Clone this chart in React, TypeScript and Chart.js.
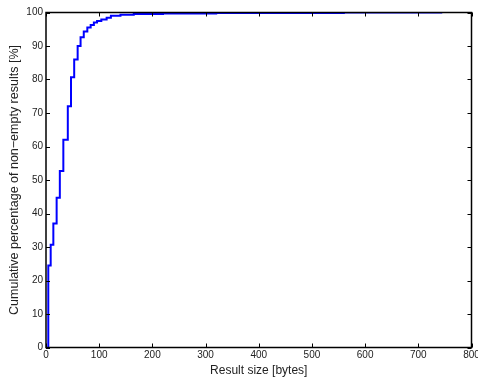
import React, { useEffect, useRef } from "react";
import { Chart, registerables } from "chart.js";

Chart.register(...registerables);

const sizeBytes = [4.3, 4.3, 8.8, 13.8, 20, 26, 32.6, 41, 47, 53, 59.5, 65, 71, 77.7, 84, 90, 96, 104, 114, 122, 140, 165, 220, 320, 560, 745];
const cumPercent = [0, 24.5, 30.7, 37, 44.7, 52.7, 62, 72, 80.7, 86, 90, 92.6, 94.3, 95.5, 96.3, 97, 97.5, 97.9, 98.4, 99, 99.3, 99.55, 99.7, 99.85, 100, 100];
const xTitle = "Result size [bytes]";
const yTitle = "Cumulative percentage of non\u2212empty results [%]";

const FONT = "'Liberation Sans', Arial, Helvetica, sans-serif";

const boxTicks = {
  id: "boxTicks",
  afterDraw(chart: any) {
    const { ctx, chartArea: a, scales } = chart;
    ctx.save();
    ctx.strokeStyle = "#000";
    ctx.lineWidth = 1;
    const L = 4;
    ctx.beginPath();
    for (const t of scales.x.ticks) {
      const px = Math.round(scales.x.getPixelForValue(t.value)) + 0.5;
      ctx.moveTo(px, a.bottom);
      ctx.lineTo(px, a.bottom - L);
      ctx.moveTo(px, a.top);
      ctx.lineTo(px, a.top + L);
    }
    for (const t of scales.y.ticks) {
      const py = Math.round(scales.y.getPixelForValue(t.value)) + 0.5;
      ctx.moveTo(a.left, py);
      ctx.lineTo(a.left + L, py);
      ctx.moveTo(a.right, py);
      ctx.lineTo(a.right - L, py);
    }
    ctx.stroke();
    ctx.lineWidth = 1.5;
    ctx.strokeRect(a.left, a.top, a.right - a.left, a.bottom - a.top);
    ctx.restore();
  },
};

export default function App() {
  const ref = useRef<HTMLCanvasElement>(null);
  useEffect(() => {
    document.body.style.margin = "0";
    const data = sizeBytes.map((x, i) => ({ x, y: cumPercent[i] }));
    const chart = new Chart(ref.current!, {
      type: "line",
      data: {
        datasets: [
          {
            data,
            borderColor: "#0000ff",
            borderWidth: 2,
            pointRadius: 0,
            stepped: "before",
            fill: false,
          },
        ],
      },
      options: {
        animation: false,
        responsive: false,
        layout: { padding: { top: 12.5, right: 6.5, bottom: 0, left: 0 } },
        plugins: { legend: { display: false }, tooltip: { enabled: false } },
        scales: {
          x: {
            type: "linear",
            min: 0,
            max: 800,
            grid: { display: false, drawTicks: false },
            border: { display: false },
            ticks: { stepSize: 100, color: "#222", font: { family: FONT, size: 10 }, padding: 2, maxRotation: 0 },
            title: { display: true, text: xTitle, color: "#222", font: { family: FONT, size: 12 }, padding: { top: 0, bottom: 0 } },
            afterFit(s: any) {
              s.height = 30.5;
              s.paddingLeft = 0;
              s.paddingRight = 0;
            },
          },
          y: {
            type: "linear",
            min: 0,
            max: 100,
            grid: { display: false, drawTicks: false },
            border: { display: false },
            ticks: { stepSize: 10, color: "#222", font: { family: FONT, size: 10 }, padding: 3 },
            title: { display: true, text: yTitle, color: "#222", font: { family: FONT, size: 12.5 }, padding: { top: 7, bottom: 0 } },
            afterFit(s: any) {
              s.width = 46;
              s.paddingTop = 0;
              s.paddingBottom = 0;
            },
          },
        },
      },
      plugins: [boxTicks],
    });
    return () => chart.destroy();
  }, []);
  return (
    <div style={{ position: "fixed", left: 0, top: 0, width: 478, height: 378, background: "#fff" }}>
      <canvas ref={ref} width={478} height={378} style={{ width: 478, height: 378 }} />
    </div>
  );
}
